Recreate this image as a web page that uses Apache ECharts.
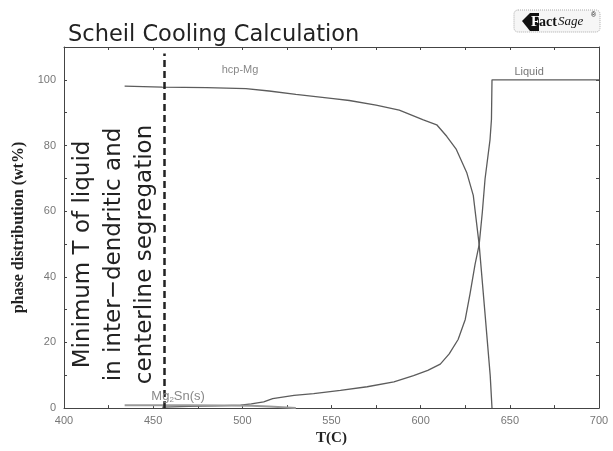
<!DOCTYPE html>
<html><head><meta charset="utf-8">
<script src="https://cdn.jsdelivr.net/npm/echarts@6/dist/echarts.min.js"></script>
<style>html,body{margin:0;padding:0;background:#fff}#c{width:613px;height:451px}</style>
</head><body><div id="c"></div>
<script>
// temperatures (C) and phase amounts (wt%)
const hcpT = [434, 455, 480, 502, 515, 530, 551, 560, 575, 588, 601.5, 609, 614.6, 620, 625.8, 629.5, 632.8, 636, 639, 640];
const hcpV = [98.1, 97.8, 97.6, 97.3, 96.6, 95.6, 94.3, 93.7, 92.3, 90.8, 87.8, 86.3, 82.8, 78.8, 71.8, 64.8, 49.8, 29.3, 9.9, 0];
const liqT = [455, 470, 485, 499, 505, 512, 517, 529, 540, 555, 570, 585, 596, 604, 611, 616, 621, 625, 627.7, 630.5, 632.8, 634.6, 636.1, 638.9, 639.7, 640, 700];
const liqV = [0.3, 0.5, 0.7, 0.9, 1.3, 1.9, 2.9, 3.9, 4.4, 5.4, 6.5, 8.0, 9.9, 11.5, 13.4, 16.5, 20.9, 27, 34.9, 43.8, 49.8, 59.8, 69.8, 81.8, 88, 100, 100];
const mgT = [434, 450, 470, 490, 505, 515, 525, 530];
const mgV = [0.9, 0.9, 0.85, 0.8, 0.7, 0.5, 0.2, 0];
const minLiquidT = 456;
const xLabelStep = 50, xTickStep = 25;
const yLabelStep = 20, yTickStep = 10;

const pairs = (a, b) => a.map((t, i) => [t, b[i]]);
const chart = echarts.init(document.getElementById('c'), null, {renderer: 'canvas'});

const lineCol = '#444';
const tickLab = {color: '#777', fontSize: 11, fontFamily: 'Liberation Sans, Arial'};
function xAx(pos, labels) {
  return {
    type: 'value', min: 400, max: 700, interval: xTickStep, position: pos,
    axisLine: {show: true, onZero: false, lineStyle: {color: lineCol, width: 1}},
    axisTick: {show: true, inside: true, length: 3, lineStyle: {color: lineCol}},
    axisLabel: labels ? Object.assign({show: true, margin: 7, formatter: v => v % xLabelStep === 0 ? String(v) : ''}, tickLab) : {show: false},
    splitLine: {show: false},
    name: labels ? 'T(C)' : '', nameLocation: 'middle', nameGap: 18,
    nameTextStyle: {fontFamily: 'Liberation Serif', fontWeight: 'bold', fontSize: 15, color: '#222'}
  };
}
function yAx(pos, labels) {
  return {
    type: 'value', min: 0, max: 110, interval: yTickStep, position: pos,
    axisLine: {show: true, onZero: false, lineStyle: {color: lineCol, width: 1}},
    axisTick: {show: true, inside: true, length: 3, lineStyle: {color: lineCol}},
    axisLabel: labels ? Object.assign({show: true, margin: 8, formatter: v => (v % yLabelStep === 0 && v <= 100) ? String(v) : ''}, tickLab) : {show: false},
    splitLine: {show: false},
    name: labels ? 'phase distribution (wt%)' : '', nameLocation: 'middle', nameGap: 34, nameRotate: 90,
    nameTextStyle: {fontFamily: 'Liberation Serif', fontWeight: 'bold', fontSize: 16, color: '#222'}
  };
}
function note(coord, text, extra) {
  return {coord: coord, label: Object.assign({show: true, position: 'inside', formatter: text}, extra)};
}

const option = {
  animation: false,
  grid: {left: 64, right: 14, top: 47, bottom: 38},
  xAxis: [xAx('bottom', true), xAx('top', false)],
  yAxis: [yAx('left', true), yAx('right', false)],
  series: [
    {
      name: 'hcp-Mg', type: 'line', data: pairs(hcpT, hcpV), showSymbol: false, symbol: 'none',
      lineStyle: {color: '#5c5c5c', width: 1.3},
      markLine: {
        silent: true, symbol: 'none', label: {show: false},
        lineStyle: {color: '#222', width: 2.5, type: [7, 4]},
        data: [[{coord: [minLiquidT, 0]}, {coord: [minLiquidT, 108]}]]
      },
      markPoint: {
        symbol: 'circle', symbolSize: 1, silent: true, itemStyle: {color: 'rgba(0,0,0,0)'},
        data: [
          note([498.7, 103.1], 'hcp-Mg', {color: '#888', fontSize: 11, fontFamily: 'Liberation Sans'}),
          note([660.8, 102.3], 'Liquid', {color: '#777', fontSize: 11, fontFamily: 'Liberation Sans'}),
          note([464, 3.6], '{a|Mg}{b|2}{a|Sn(s)}', {color: '#888', rich: {a: {fontSize: 13, color: '#888', fontFamily: 'Liberation Sans'}, b: {fontSize: 8, color: '#888', padding: [7, 0, 0, 0], fontFamily: 'Liberation Sans'}}}),
          note([427.8, 46.8], 'Minimum T of liquid\nin inter\u2212dendritic and\ncenterline segregation',
            {rotate: 90, color: '#222', fontSize: 23, lineHeight: 31, align: 'center', verticalAlign: 'middle', fontFamily: 'DejaVu Sans'})
        ]
      }
    },
    {name: 'Liquid', type: 'line', data: pairs(liqT, liqV), showSymbol: false, symbol: 'none', lineStyle: {color: '#5c5c5c', width: 1.3}},
    {name: 'Mg2Sn(s)', type: 'line', data: pairs(mgT, mgV), showSymbol: false, symbol: 'none', lineStyle: {color: '#9a9a9a', width: 2}}
  ],
  graphic: [
    {type: 'text', left: 68, top: 24, style: {text: 'Scheil Cooling Calculation', font: '22.5px "DejaVu Sans"', fill: '#222'}},
    {type: 'rect', shape: {x: 514, y: 10, width: 86, height: 22, r: 4}, style: {fill: '#f6f6f6', stroke: '#aaa', lineWidth: 1, lineDash: [1, 1]}},
    {type: 'polygon', shape: {points: [[522, 21], [530, 13], [539, 13], [539, 31], [530, 31]]}, style: {fill: '#111'}},
    {type: 'text', x: 531, y: 22, style: {text: 'F', font: 'bold 15px "Liberation Serif"', fill: '#fff', verticalAlign: 'middle'}},
    {type: 'text', x: 539, y: 22, style: {text: 'act', font: 'bold 14px "Liberation Serif"', fill: '#111', verticalAlign: 'middle'}},
    {type: 'text', x: 558, y: 22, style: {text: 'Sage', font: 'italic 13px "Liberation Serif"', fill: '#111', verticalAlign: 'middle'}},
    {type: 'text', x: 591, y: 15, style: {text: '\u00ae', font: '7px "Liberation Sans"', fill: '#111', verticalAlign: 'middle'}}
  ]
};
chart.setOption(option);
</script>
</body></html>
